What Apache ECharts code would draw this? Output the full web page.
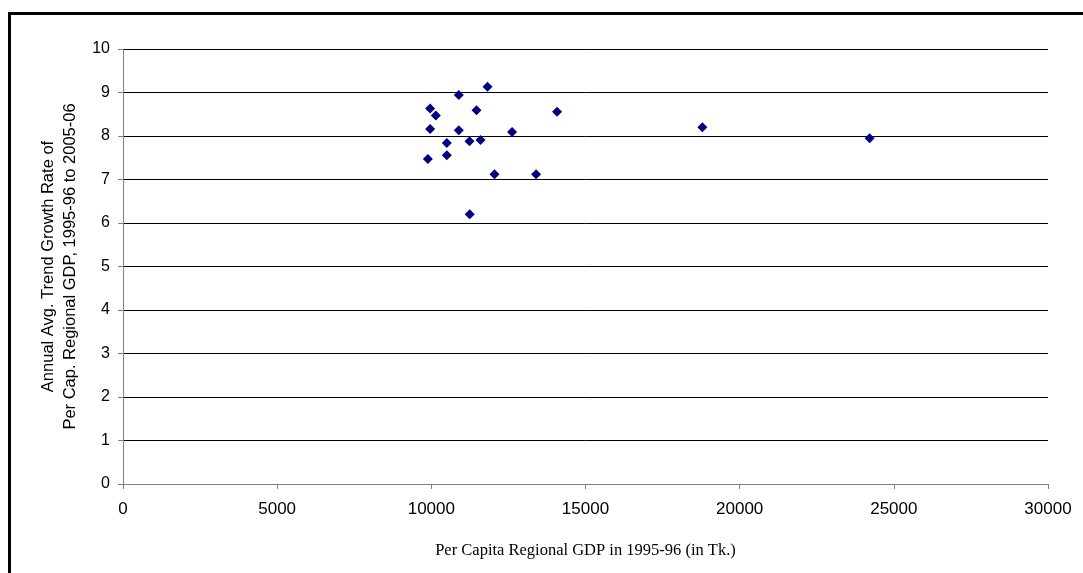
<!DOCTYPE html>
<html>
<head>
<meta charset="utf-8">
<title>Per capita GDP vs growth</title>
<script src="https://cdn.jsdelivr.net/npm/echarts@6/dist/echarts.min.js"></script>
<style>
  html, body { margin: 0; padding: 0; background: #fff; }
  #chart { width: 1083px; height: 573px; }
</style>
</head>
<body>
<div id="chart"></div>
<script>
// per capita regional GDP 1995-96 (Tk.)
var gdpPerCap = [11822, 10891, 9961, 10146, 11465, 14078, 9961, 10891, 12619, 10502,
                 11238, 11595, 9887, 10502, 12049, 13397, 11245, 18791, 24214];
// annual avg. trend growth rate, 1995-96 to 2005-06
var growthRate = [9.13, 8.94, 8.63, 8.47, 8.59, 8.56, 8.16, 8.13, 8.09, 7.84,
                  7.88, 7.91, 7.47, 7.56, 7.12, 7.12, 6.20, 8.20, 7.95];

var xTitle = 'Per Capita Regional GDP in 1995-96 (in Tk.)';
var yTitle = 'Annual Avg. Trend Growth Rate of\nPer Cap. Regional GDP, 1995-96 to 2005-06';

var points = [];
for (var i = 0; i < gdpPerCap.length; i++) {
    points.push([gdpPerCap[i], growthRate[i]]);
}

var sans = '"Liberation Sans", Arial, sans-serif';

var myChart = echarts.init(document.getElementById('chart'));
var option = {
    backgroundColor: '#fff',
    animation: false,
    graphic: [{
        type: 'rect',
        shape: { x: 9.5, y: 13.5, width: 1100, height: 600 },
        style: { fill: 'none', stroke: '#000', lineWidth: 3 },
        silent: true
    }],
    grid: { left: 123, right: 35, top: 49, bottom: 89 },
    xAxis: {
        type: 'value',
        min: 0, max: 30000, interval: 5000,
        name: xTitle,
        nameLocation: 'middle',
        nameGap: 58,
        nameTextStyle: { color: '#000', fontSize: 16.5, lineHeight: 18, fontFamily: '"Liberation Serif", "Times New Roman", serif' },
        axisLine: { show: true, lineStyle: { color: '#808080', width: 1 } },
        axisTick: { show: true, length: 5, lineStyle: { color: '#808080' } },
        axisLabel: { color: '#000', fontSize: 17, fontFamily: sans, margin: 17, formatter: function (v) { return String(v); } },
        splitLine: { show: false }
    },
    yAxis: {
        type: 'value',
        min: 0, max: 10, interval: 1,
        name: yTitle,
        nameLocation: 'middle',
        nameGap: 39,
        nameTextStyle: { color: '#000', fontSize: 16.5, lineHeight: 22, fontFamily: sans },
        axisLine: { show: true, lineStyle: { color: '#808080', width: 1 } },
        axisTick: { show: true, length: 5, lineStyle: { color: '#808080' } },
        axisLabel: { color: '#000', fontSize: 16, fontFamily: sans, margin: 13 },
        splitLine: { show: true, lineStyle: { color: '#000', width: 1 } }
    },
    series: [{
        type: 'scatter',
        data: points,
        symbol: 'diamond',
        symbolSize: 10,
        itemStyle: { color: '#000080', opacity: 1 }
    }]
};
myChart.setOption(option);
</script>
</body>
</html>
